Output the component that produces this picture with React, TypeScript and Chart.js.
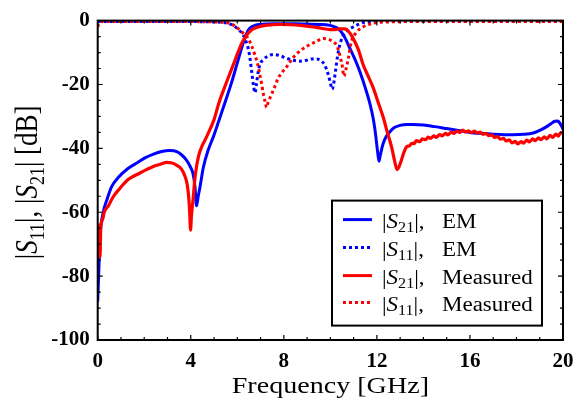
import React, { useEffect, useRef } from "react";
import { Chart, registerables } from "chart.js";

Chart.register(...registerables);

// ---------- data (frequency in GHz, magnitude in dB) ----------
const emS21Freq = [0, 0.05, 0.1, 0.24, 0.4, 0.6, 0.9, 1.3, 1.7, 2.03, 2.4, 2.75, 3.1, 3.4, 3.6, 3.8, 3.97, 4.1, 4.18, 4.25, 4.32, 4.4, 4.54, 4.75, 4.97, 5.2, 5.5, 5.75, 5.97, 6.15, 6.3, 6.47, 6.65, 6.8, 7.0, 7.2, 7.6, 8.0, 8.5, 9.0, 9.5, 9.98, 10.2, 10.41, 10.6, 10.84, 11.05, 11.27, 11.5, 11.7, 11.85, 11.95, 12.03, 12.09, 12.15, 12.27, 12.4, 12.56, 12.75, 12.99, 13.3, 13.56, 14.0, 14.5, 15.0, 15.5, 16.0, 16.43, 17.0, 17.5, 17.86, 18.3, 18.72, 19.0, 19.3, 19.5, 19.65, 19.78, 19.87, 19.95, 20];
const emS21Db = [-88, -78, -68, -60, -56, -52, -49, -46.3, -44.5, -43, -41.8, -41, -40.7, -41, -42, -43.5, -45.6, -48, -52, -58, -55, -52, -46, -40.5, -36.4, -31.5, -25, -19.5, -14, -9.5, -6, -3, -1.8, -1.4, -1.2, -1.1, -1.0, -1.0, -1.0, -1.1, -1.2, -1.5, -2.0, -3, -5, -8.7, -12, -16, -21, -26, -31, -36, -41, -44, -42, -38.5, -36.3, -34.8, -33.5, -32.8, -32.5, -32.5, -32.7, -33.2, -33.8, -34.4, -35, -35.3, -35.6, -35.7, -35.7, -35.6, -35.2, -34.4, -33.2, -32.2, -31.5, -31.4, -32.2, -33.2, -34];

const emS11Freq = [0, 1, 2, 3, 4, 4.5, 5.0, 5.3, 5.55, 5.82, 6.05, 6.26, 6.4, 6.47, 6.55, 6.62, 6.7, 6.76, 6.82, 6.9, 6.97, 7.12, 7.3, 7.55, 7.8, 8.12, 8.4, 8.7, 8.98, 9.2, 9.41, 9.6, 9.75, 9.91, 10.0, 10.08, 10.15, 10.2, 10.34, 10.45, 10.55, 10.75, 10.98, 11.2, 11.41, 11.8, 12.5, 14, 16, 18, 20];
const emS11Db = [-0.3, -0.3, -0.3, -0.3, -0.3, -0.35, -0.4, -0.5, -0.8, -1.5, -2.8, -4.6, -7, -8.7, -12, -16, -20.5, -22.6, -20, -16, -13.8, -12.2, -11.2, -10.6, -10.9, -11.8, -12.4, -12.7, -12.4, -12, -12, -12.6, -13.8, -16.9, -19.5, -21.5, -19.5, -16.9, -9.8, -6.5, -4.6, -3, -2, -1.2, -0.6, -0.4, -0.3, -0.3, -0.3, -0.3, -0.3];

const measS21Freq = [0, 0.03, 0.06, 0.1, 0.13, 0.17, 0.22, 0.28, 0.35, 0.46, 0.6, 0.74, 0.9, 1.1, 1.32, 1.6, 1.8, 2.03, 2.3, 2.5, 2.75, 2.96, 3.2, 3.4, 3.6, 3.75, 3.85, 3.92, 3.96, 3.99, 4.03, 4.1, 4.17, 4.25, 4.35, 4.47, 4.68, 5.0, 5.2, 5.5, 5.83, 6.0, 6.2, 6.4, 6.6, 6.9, 7.2, 7.5, 7.83, 8.3, 8.8, 9.27, 9.6, 9.98, 10.2, 10.41, 10.6, 10.7, 10.85, 10.98, 11.2, 11.41, 11.6, 11.84, 12.05, 12.27, 12.45, 12.63, 12.75, 12.87, 12.95, 13.06, 13.15, 13.28, 13.4, 13.5, 13.6, 13.7, 13.85, 13.95, 14.1, 14.2, 14.3, 14.45, 14.55, 14.7, 14.8, 14.95, 15.05, 15.2, 15.3, 15.45, 15.55, 15.7, 15.8, 15.95, 16.05, 16.2, 16.3, 16.45, 16.55, 16.7, 16.8, 16.95, 17.05, 17.2, 17.3, 17.45, 17.55, 17.7, 17.8, 17.95, 18.05, 18.2, 18.3, 18.45, 18.55, 18.7, 18.8, 18.95, 19.05, 19.2, 19.3, 19.45, 19.55, 19.7, 19.8, 19.9, 20];
const measS21Db = [-65, -66, -64, -74, -65, -63, -62, -60, -59, -58, -56, -54.4, -53, -51.3, -49.7, -48.5, -47.8, -46.9, -46, -45.4, -44.8, -44.4, -44.6, -45.3, -46.5, -48.7, -51.5, -56, -61, -65.6, -61, -56, -50, -45.6, -42, -39.5, -36.4, -31, -26, -20, -13.8, -10.5, -7, -4.6, -3, -2, -1.5, -1.3, -1.2, -1.3, -1.6, -2.0, -2.4, -2.8, -2.8, -2.6, -2.6, -2.8, -4, -5.6, -9, -13.8, -17, -21, -25.5, -30.2, -35, -39.5, -43.5, -46.7, -45.8, -43.6, -41.5, -39.5, -39.2, -38.4, -38.5, -37.6, -37.9, -37.0, -37.3, -36.5, -36.9, -36.1, -36.6, -35.7, -36.1, -35.3, -35.8, -34.9, -35.3, -34.6, -35.0, -34.3, -34.9, -34.5, -35.1, -34.6, -35.2, -34.9, -35.6, -35.3, -36.0, -35.8, -36.6, -36.3, -37.1, -36.9, -37.7, -37.3, -38.3, -37.8, -38.6, -37.9, -38.4, -37.4, -38.0, -37.0, -37.6, -36.7, -37.3, -36.4, -37.0, -35.9, -36.6, -35.5, -36.2, -35.1, -35.3];

const measS11Freq = [0, 0.08, 0.2, 1, 2, 3, 4, 4.5, 5.0, 5.3, 5.54, 5.85, 6.12, 6.3, 6.47, 6.62, 6.76, 6.87, 6.97, 7.05, 7.12, 7.2, 7.26, 7.33, 7.48, 7.62, 7.76, 7.95, 8.12, 8.41, 8.7, 9.0, 9.4, 9.7, 9.98, 10.15, 10.27, 10.36, 10.44, 10.52, 10.58, 10.66, 10.77, 10.9, 11.13, 11.4, 11.84, 12.5, 14, 16, 18, 20];
const measS11Db = [-2.0, -0.6, -0.3, -0.3, -0.3, -0.3, -0.3, -0.35, -0.4, -0.5, -0.6, -1.5, -3, -4.3, -5.6, -8, -10.8, -13.5, -16.9, -20, -23, -25.5, -27.2, -25.5, -23, -20.5, -18, -16, -14.5, -11.5, -9.5, -8, -6.5, -5.6, -6, -6.8, -7.7, -9.5, -11.8, -14.5, -17.4, -15.5, -12, -6.7, -3.6, -2, -0.8, -0.4, -0.3, -0.3, -0.3, -0.3];

const xRange = [0, 20];
const yRange = [-100, 0];
const xMajorStep = 4;
const xMinorStep = 1;
const yMajorStep = 20;
const yMinorStep = 5;

const xTitle = "Frequency [GHz]";
const legendSources = ["EM", "EM", "Measured", "Measured"];
const legendParams = ["21", "11", "21", "11"];

// ---------- styling ----------
const BLUE = "rgb(0,0,255)";
const RED = "rgb(255,0,0)";
const SERIF = '"Liberation Serif", "Times New Roman", serif';
const DOT: number[] = [3, 3];

type Part = { t: string; it?: boolean; sub?: boolean };

function richWidth(ctx: CanvasRenderingContext2D, parts: Part[], size: number) {
  let w = 0;
  for (const p of parts) {
    const s = p.sub ? Math.round(size * 0.68) : size;
    ctx.font = `${p.it ? "italic " : ""}${s}px ${SERIF}`;
    w += ctx.measureText(p.t).width;
  }
  return w;
}

function drawRich(ctx: CanvasRenderingContext2D, parts: Part[], x: number, y: number, size: number) {
  let cx = x;
  ctx.textBaseline = "alphabetic";
  ctx.textAlign = "left";
  for (const p of parts) {
    const s = p.sub ? Math.round(size * 0.68) : size;
    ctx.font = `${p.it ? "italic " : ""}${s}px ${SERIF}`;
    ctx.fillText(p.t, cx, y + (p.sub ? size * 0.22 : 0));
    cx += ctx.measureText(p.t).width;
  }
  return cx - x;
}

const decorPlugin = {
  id: "decor",
  afterDraw(chart: any) {
    const { ctx, chartArea: ca, scales } = chart;
    const xs = scales.x;
    const ys = scales.y;
    ctx.save();
    ctx.strokeStyle = "#000";
    ctx.fillStyle = "#000";

    // inward ticks on all four sides
    ctx.lineWidth = 1.2;
    ctx.beginPath();
    for (let v = xRange[0]; v <= xRange[1] + 1e-9; v += xMinorStep) {
      const px = xs.getPixelForValue(v);
      const len = Math.abs(v / xMajorStep - Math.round(v / xMajorStep)) < 1e-6 ? 5 : 3;
      ctx.moveTo(px, ca.bottom);
      ctx.lineTo(px, ca.bottom - len);
      ctx.moveTo(px, ca.top);
      ctx.lineTo(px, ca.top + len);
    }
    for (let v = yRange[0]; v <= yRange[1] + 1e-9; v += yMinorStep) {
      const py = ys.getPixelForValue(v);
      const len = Math.abs(v / yMajorStep - Math.round(v / yMajorStep)) < 1e-6 ? 5 : 3;
      ctx.moveTo(ca.left, py);
      ctx.lineTo(ca.left + len, py);
      ctx.moveTo(ca.right, py);
      ctx.lineTo(ca.right - len, py);
    }
    ctx.stroke();

    // frame
    ctx.lineWidth = 2;
    ctx.strokeRect(ca.left, ca.top, ca.right - ca.left, ca.bottom - ca.top);

    // x-axis title
    ctx.save();
    ctx.font = `24px ${SERIF}`;
    const xtW = ctx.measureText(xTitle).width * 1.17;
    const xc = (ca.left + ca.right) / 2;
    ctx.translate(xc - xtW / 2, 393);
    ctx.scale(1.17, 1);
    ctx.textBaseline = "alphabetic";
    ctx.textAlign = "left";
    ctx.fillText(xTitle, 0, 0);
    ctx.restore();

    // y-axis title (rotated, with subscripts)
    const yParts: Part[] = [
      { t: "|" }, { t: "S", it: true }, { t: "11", sub: true }, { t: "|, " },
      { t: "|" }, { t: "S", it: true }, { t: "21", sub: true }, { t: "| [dB]" },
    ];
    ctx.save();
    const ySize = 27;
    const ytW = richWidth(ctx, yParts, ySize);
    ctx.translate(37, (ca.top + ca.bottom) / 2 + 2);
    ctx.rotate(-Math.PI / 2);
    ctx.scale(1, 1.15);
    drawRich(ctx, yParts, -ytW / 2, 0, ySize);
    ctx.restore();

    // legend
    const bx = ca.right - 231;
    const by = ca.top + 180;
    const bw = 210;
    const bh = 125;
    ctx.fillStyle = "#fff";
    ctx.fillRect(bx, by, bw, bh);
    ctx.strokeStyle = "#000";
    ctx.lineWidth = 2;
    ctx.strokeRect(bx, by, bw, bh);
    const rows = [19, 47, 75, 102];
    const colors = [BLUE, BLUE, RED, RED];
    const dashed = [false, true, false, true];
    rows.forEach((ry, i) => {
      const y = by + ry;
      ctx.save();
      ctx.strokeStyle = colors[i];
      ctx.lineWidth = 3;
      ctx.setLineDash(dashed[i] ? DOT : []);
      ctx.beginPath();
      ctx.moveTo(bx + 11, y);
      ctx.lineTo(bx + 40, y);
      ctx.stroke();
      ctx.restore();

      ctx.save();
      ctx.fillStyle = "#000";
      ctx.translate(bx + 50, y + 8);
      ctx.scale(1.15, 1);
      drawRich(ctx, [{ t: "|" }, { t: "S", it: true }, { t: legendParams[i], sub: true }, { t: "|," }], 0, 0, 20);
      ctx.restore();

      ctx.save();
      ctx.fillStyle = "#000";
      ctx.translate(bx + 110, y + 8);
      ctx.scale(1.15, 1);
      drawRich(ctx, [{ t: legendSources[i] }], 0, 0, 20);
      ctx.restore();
    });

    ctx.restore();
  },
};

function pts(f: number[], d: number[]) {
  return f.map((x, i) => ({ x, y: d[i] }));
}

export default function App() {
  const canvasRef = useRef<HTMLCanvasElement>(null);

  useEffect(() => {
    const canvas = canvasRef.current;
    if (!canvas) return;
    const lineBase = {
      borderWidth: 3,
      pointRadius: 0,
      fill: false,
      cubicInterpolationMode: "monotone" as const,
    };
    const chart = new Chart(canvas, {
      type: "line",
      data: {
        datasets: [
          { ...lineBase, label: "|S21|, Measured", data: pts(measS21Freq, measS21Db), borderColor: RED, borderWidth: 3.2 },
          { ...lineBase, label: "|S11|, Measured", data: pts(measS11Freq, measS11Db), borderColor: RED, borderDash: DOT },
          { ...lineBase, label: "|S21|, EM", data: pts(emS21Freq, emS21Db), borderColor: BLUE },
          { ...lineBase, label: "|S11|, EM", data: pts(emS11Freq, emS11Db), borderColor: BLUE, borderDash: DOT },
        ],
      },
      options: {
        animation: false,
        responsive: false,
        devicePixelRatio: 1,
        layout: { padding: { left: 0, right: 21, top: 15, bottom: 0 } },
        plugins: { legend: { display: false }, tooltip: { enabled: false } },
        scales: {
          x: {
            type: "linear",
            min: xRange[0],
            max: xRange[1],
            grid: { display: false, drawTicks: false },
            border: { display: false },
            ticks: {
              stepSize: xMajorStep,
              padding: 9,
              color: "#000",
              maxRotation: 0,
              font: { family: SERIF, size: 21, weight: "bold" },
            },
            afterFit: (s: any) => {
              s.height = 61;
            },
          },
          y: {
            type: "linear",
            min: yRange[0],
            max: yRange[1],
            grid: { display: false, drawTicks: false },
            border: { display: false },
            ticks: {
              stepSize: yMajorStep,
              padding: 8,
              color: "#000",
              font: { family: SERIF, size: 21, weight: "bold" },
            },
            afterFit: (s: any) => {
              s.width = 97.7;
            },
          },
        },
      } as any,
      plugins: [decorPlugin],
    });
    return () => chart.destroy();
  }, []);

  return (
    <div style={{ position: "absolute", left: 0, top: 0, width: 584, height: 401, background: "#fff" }}>
      <canvas ref={canvasRef} width={584} height={401} style={{ display: "block" }} />
    </div>
  );
}
